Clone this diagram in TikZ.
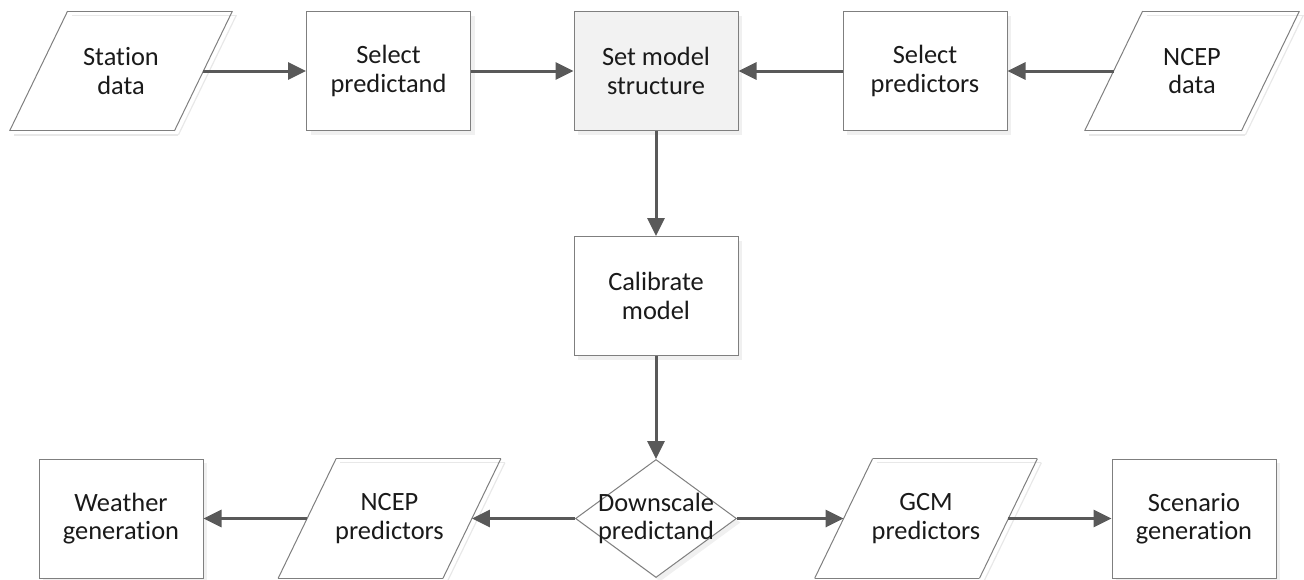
\documentclass[tikz,border=0pt]{standalone}
\usepackage{fontspec}
\setmainfont{Carlito}[Ligatures=CommonOff]
\usetikzlibrary{arrows.meta,shapes.geometric,shadows}
\definecolor{boxline}{HTML}{7F7F7F}
\definecolor{flowgray}{HTML}{595959}
\definecolor{setfill}{HTML}{F2F2F2}
\definecolor{txtgray}{HTML}{1A1A1A}
\tikzset{
  >={Triangle[length=9pt,width=8.5pt]},
  % former
  pb/.style={rectangle,draw=boxline,fill=white,line width=0.5pt,inner sep=0pt,
             minimum width=82pt,minimum height=59.5pt,align=center,text=txtgray,
             font=\fontsize{13.2}{14.2}\selectfont,
             drop shadow={shadow xshift=2pt,shadow yshift=-2pt,fill=black!6,opacity=1}},
  ioline/.style={draw=boxline,line width=0.5pt,-},
  ioshade/.style={draw=black!9,line width=0.6pt,-},
  io/.style={rectangle,inner sep=0pt,minimum width=82pt,minimum height=59.5pt,
             align=center,text=txtgray,font=\fontsize{13.2}{14.2}\selectfont,
             append after command={
               ([xshift=16.5pt,yshift=-2pt]\tikzlastnode.north west) edge[ioshade] ([xshift=16.5pt,yshift=-2pt]\tikzlastnode.north east)
               ([xshift=16.5pt,yshift=-2pt]\tikzlastnode.north east) edge[ioshade] ([xshift=-12.5pt,yshift=-2pt]\tikzlastnode.south east)
               ([xshift=-12.5pt,yshift=-2pt]\tikzlastnode.south east) edge[ioshade] ([xshift=-12.5pt,yshift=-2pt]\tikzlastnode.south west)
               ([xshift=14.5pt]\tikzlastnode.north west) edge[ioline] ([xshift=14.5pt]\tikzlastnode.north east)
               ([xshift=14.5pt]\tikzlastnode.north east) edge[ioline] ([xshift=-14.5pt]\tikzlastnode.south east)
               ([xshift=-14.5pt]\tikzlastnode.south east) edge[ioline] ([xshift=-14.5pt]\tikzlastnode.south west)
               ([xshift=-14.5pt]\tikzlastnode.south west) edge[ioline] ([xshift=14.5pt]\tikzlastnode.north west)
             }},
  dec/.style={pb,diamond,minimum width=80.5pt,minimum height=59pt},
  dl/.style={align=center,inner sep=0pt,text=txtgray,font=\fontsize{13.2}{14.2}\selectfont},
  % flöden
  fe/.style={->,draw=flowgray,line width=1.5pt},
}
\begin{document}
\begin{tikzpicture}[x=0.5pt,y=-0.5pt]
\useasboundingbox (0,0) rectangle (1304,579);
  \node[io] (station) at (121,71) {Station\\data};
  \node[pb] (predictand) at (388.5,71) {Select\\predictand};
  \node[pb,fill=setfill] (structure) at (656,71) {Set model\\structure};
  \node[pb] (predictors) at (925,71) {Select\\predictors};
  \node[io,minimum width=78pt] (ncepdata) at (1192,71) {NCEP\\data};
  \node[pb] (calibrate) at (656,296) {Calibrate\\model};
  \node[dec,label={[dl]center:{Downscale\\predictand}}] (downscale) at (656,518.5) {};
  \node[pb] (weather) at (121,518.5) {Weather\\generation};
  \node[io] (nceppred) at (389.5,518.5) {NCEP\\predictors};
  \node[io] (gcmpred) at (926,518.5) {GCM\\predictors};
  \node[pb] (scenario) at (1194,518.5) {Scenario\\generation};
  \draw[fe] (station) -- (predictand);
  \draw[fe] (predictand) -- (structure);
  \draw[fe] (predictors) -- (structure);
  \draw[fe] (ncepdata) -- (predictors);
  \draw[fe] (structure) -- (calibrate);
  \draw[fe] (calibrate) -- (downscale);
  \draw[fe] (downscale) -- (nceppred);
  \draw[fe] (nceppred) -- (weather);
  \draw[fe] (downscale) -- (gcmpred);
  \draw[fe] (gcmpred) -- (scenario);
\end{tikzpicture}
\end{document}
